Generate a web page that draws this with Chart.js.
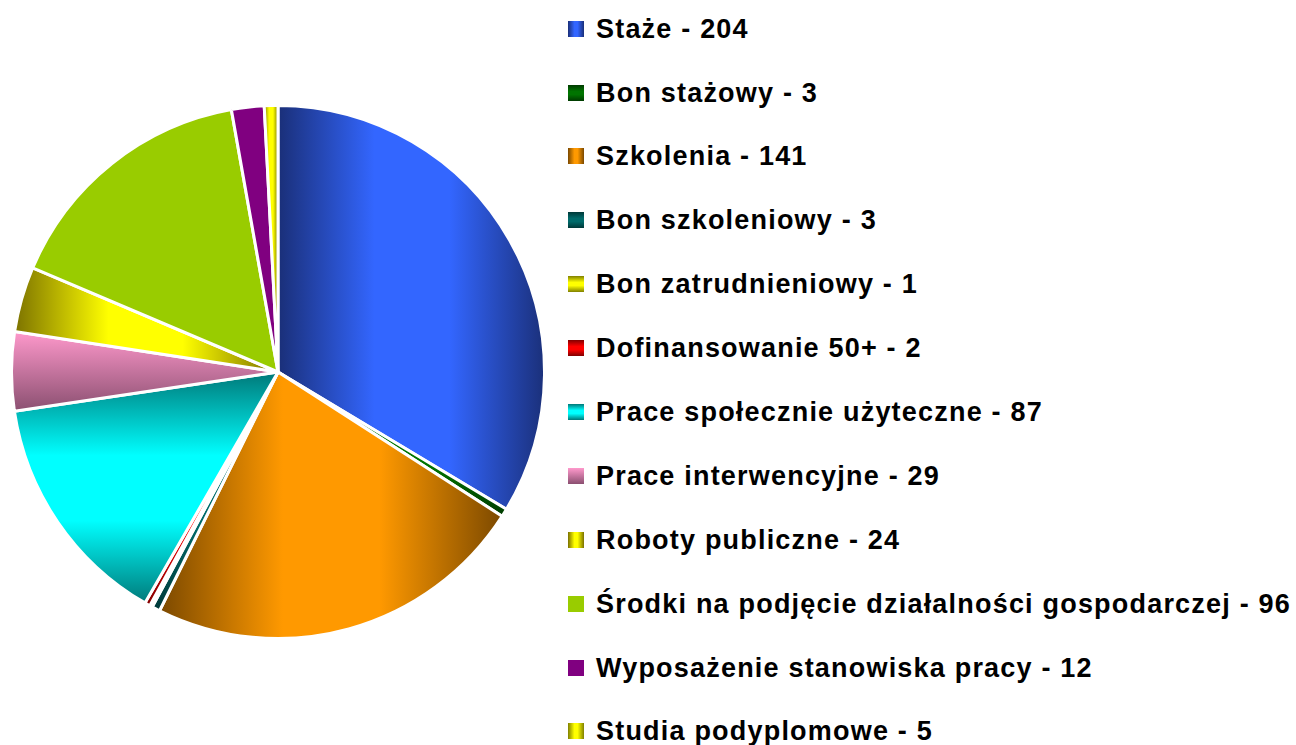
<!DOCTYPE html>
<html lang="pl">
<head>
    <meta charset="UTF-8">
    <title>Formy aktywizacji</title>
    <script src="https://cdn.jsdelivr.net/npm/chart.js"></script>
    <style>
        body {
            margin: 0;
            width: 1296px;
            height: 745px;
            overflow: hidden;
            background: #fff;
            font-family: "Liberation Sans", Arial, sans-serif;
        }
        .pie-box {
            position: absolute;
            left: 10px;
            top: 104px;
            width: 536px;
            height: 536px;
        }
        .legend {
            position: absolute;
            left: 568px;
            top: 13.7px;
        }
        .legend-item {
            position: relative;
            height: 63.9px;
            line-height: 30px;
            padding-left: 28px;
            font-size: 27px;
            font-weight: bold;
            letter-spacing: 1.2px;
            white-space: nowrap;
            color: #000;
        }
        .legend-item .box {
            position: absolute;
            left: 0;
            top: 7px;
            width: 16px;
            height: 16px;
        }
    </style>
</head>
<body>
    <div class="pie-box"><canvas id="pieChart"></canvas></div>
    <div class="legend" id="legend"></div>
    <script>
        const labels = [
            'Staże', 'Bon stażowy', 'Szkolenia', 'Bon szkoleniowy', 'Bon zatrudnieniowy',
            'Dofinansowanie 50+', 'Prace społecznie użyteczne', 'Prace interwencyjne',
            'Roboty publiczne', 'Środki na podjęcie działalności gospodarczej',
            'Wyposażenie stanowiska pracy', 'Studia podyplomowe'
        ];
        const values = [204, 3, 141, 3, 1, 2, 87, 29, 24, 96, 12, 5];

        // fill style per slice: direction (h/v), kind (axial/linear/solid), light and dark colour
        const fills = [
            { dir: 'h', kind: 'axial',  light: '#3366ff', dark: '#1a2f78' },
            { dir: 'v', kind: 'axial',  light: '#007400', dark: '#003a00' },
            { dir: 'h', kind: 'axial',  light: '#ff9900', dark: '#7a4800' },
            { dir: 'v', kind: 'axial',  light: '#006a6a', dark: '#003838' },
            { dir: 'v', kind: 'axial',  light: '#ffff00', dark: '#808000' },
            { dir: 'v', kind: 'axial',  light: '#ff0000', dark: '#800000' },
            { dir: 'v', kind: 'axial',  light: '#00ffff', dark: '#007878' },
            { dir: 'v', kind: 'linear', light: '#ff99cc', dark: '#8a4f70' },
            { dir: 'h', kind: 'axial',  light: '#ffff00', dark: '#7a7000' },
            { dir: 'h', kind: 'solid',  light: '#99cc00', dark: '#99cc00' },
            { dir: 'h', kind: 'solid',  light: '#800080', dark: '#800080' },
            { dir: 'h', kind: 'axial',  light: '#ffff00', dark: '#808000' }
        ];

        const total = values.reduce((a, b) => a + b, 0);

        function sliceFill(c) {
            const f = fills[c.dataIndex];
            const area = c.chart.chartArea;
            if (f.kind === 'solid' || !area) return f.light;
            const i = c.dataIndex;
            const cx = (area.left + area.right) / 2;
            const cy = (area.top + area.bottom) / 2;
            const r = Math.min(area.right - area.left, area.bottom - area.top) / 2;
            let before = 0;
            for (let j = 0; j < i; j++) before += values[j];
            const a0 = -Math.PI / 2 + 2 * Math.PI * before / total;
            const a1 = a0 + 2 * Math.PI * values[i] / total;

            // bounding box of the sector
            const xs = [cx], ys = [cy];
            [a0, a1].forEach(a => { xs.push(cx + r * Math.cos(a)); ys.push(cy + r * Math.sin(a)); });
            for (let k = -2; k <= 4; k++) {
                const a = k * Math.PI / 2;
                if (a > a0 && a < a1) { xs.push(cx + r * Math.cos(a)); ys.push(cy + r * Math.sin(a)); }
            }
            const minX = Math.min(...xs), maxX = Math.max(...xs);
            const minY = Math.min(...ys), maxY = Math.max(...ys);

            const ctx = c.chart.ctx;
            const g = f.dir === 'h'
                ? ctx.createLinearGradient(minX, 0, maxX + 0.01, 0)
                : ctx.createLinearGradient(0, minY, 0, maxY + 0.01);
            if (f.kind === 'axial') {
                g.addColorStop(0, f.dark);
                g.addColorStop(0.36, f.light);
                g.addColorStop(0.64, f.light);
                g.addColorStop(1, f.dark);
            } else {
                g.addColorStop(0, f.light);
                g.addColorStop(1, f.dark);
            }
            return g;
        }

        function boxFill(f) {
            if (f.kind === 'solid') return f.light;
            const side = f.dir === 'h' ? 'to right' : 'to bottom';
            if (f.kind === 'axial') return `linear-gradient(${side}, ${f.dark}, ${f.light} 40%, ${f.light} 60%, ${f.dark})`;
            return `linear-gradient(${side}, ${f.light}, ${f.dark})`;
        }

        new Chart(document.getElementById('pieChart'), {
            type: 'pie',
            data: {
                labels: labels,
                datasets: [{
                    data: values,
                    backgroundColor: sliceFill,
                    borderColor: '#ffffff',
                    borderWidth: 3,
                    hoverOffset: 0
                }]
            },
            options: {
                responsive: true,
                maintainAspectRatio: false,
                animation: false,
                layout: { padding: 0 },
                plugins: {
                    legend: { display: false },
                    tooltip: { enabled: false }
                }
            }
        });

        // legend on the right
        const legend = document.getElementById('legend');
        labels.forEach((name, i) => {
            const item = document.createElement('div');
            item.className = 'legend-item';
            const box = document.createElement('span');
            box.className = 'box';
            box.style.background = boxFill(fills[i]);
            item.appendChild(box);
            item.appendChild(document.createTextNode(`${name} - ${values[i]}`));
            legend.appendChild(item);
        });
    </script>
</body>
</html>
